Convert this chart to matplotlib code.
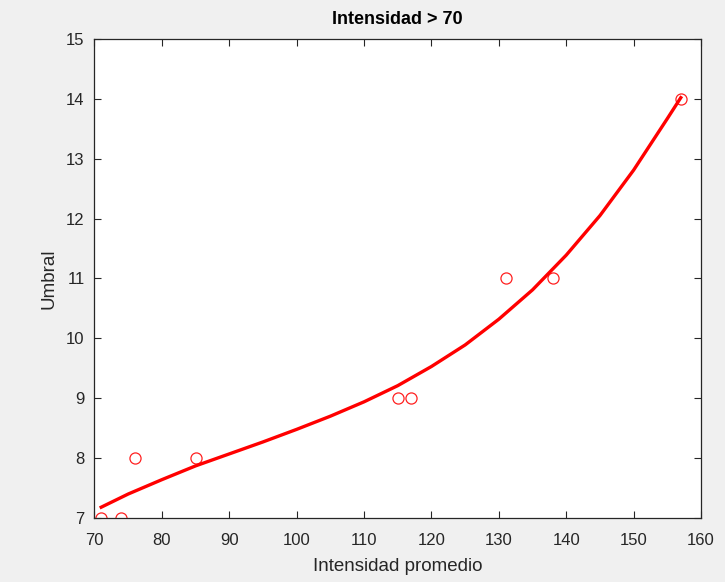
import numpy as np
import matplotlib

matplotlib.use("Agg")
import matplotlib.pyplot as plt

# measured points (open circles)
int_prom = np.array([71, 74, 76, 85, 115, 117, 131, 138, 157])
umbral = np.array([7, 7, 8, 8, 9, 9, 11, 11, 14])

# fitted curve
fit_x = np.array([71, 75, 80, 85, 90, 95, 100, 105, 110, 115, 120, 125,
                  130, 135, 140, 145, 150, 155, 157])
fit_y = np.array([7.18, 7.40, 7.64, 7.87, 8.07, 8.27, 8.48, 8.70, 8.94, 9.21,
                  9.53, 9.89, 10.32, 10.81, 11.39, 12.05, 12.81, 13.67, 14.02])

x_ticks = np.arange(70, 161, 10)
y_ticks = np.arange(7, 16, 1)

plt.rcParams["font.family"] = ["Liberation Sans", "DejaVu Sans"]
dark = "#262626"

fig = plt.figure(figsize=(7.25, 5.82), dpi=100, facecolor="#f0f0f0")
ax = fig.add_axes([0.1303, 0.11, 0.8366, 0.823])
ax.set_facecolor("white")

ax.plot(int_prom, umbral, "o", ms=8, mfc="none", mec="#ff2020", mew=0.9)
ax.plot(fit_x, fit_y, color="#ff0000", lw=2.4, solid_joinstyle="round")

ax.set_xlim(70, 160)
ax.set_ylim(7, 15)
ax.set_xticks(x_ticks)
ax.set_yticks(y_ticks)
ax.tick_params(direction="in", length=5, width=0.8, top=True, right=True,
               colors=dark, labelsize=12)
ax.tick_params(axis="x", pad=11)
ax.tick_params(axis="y", pad=7)
for s in ax.spines.values():
    s.set_color(dark)
    s.set_linewidth(0.9)

ax.set_xlabel("Intensidad promedio", fontsize=13.5, color=dark, labelpad=7)
ax.set_ylabel("Umbral", fontsize=13.5, color=dark, labelpad=6)
ax.set_title("Intensidad > 70", fontsize=13, fontweight="bold", color="black", pad=11)

fig.savefig("out.png", dpi=100, facecolor=fig.get_facecolor())
